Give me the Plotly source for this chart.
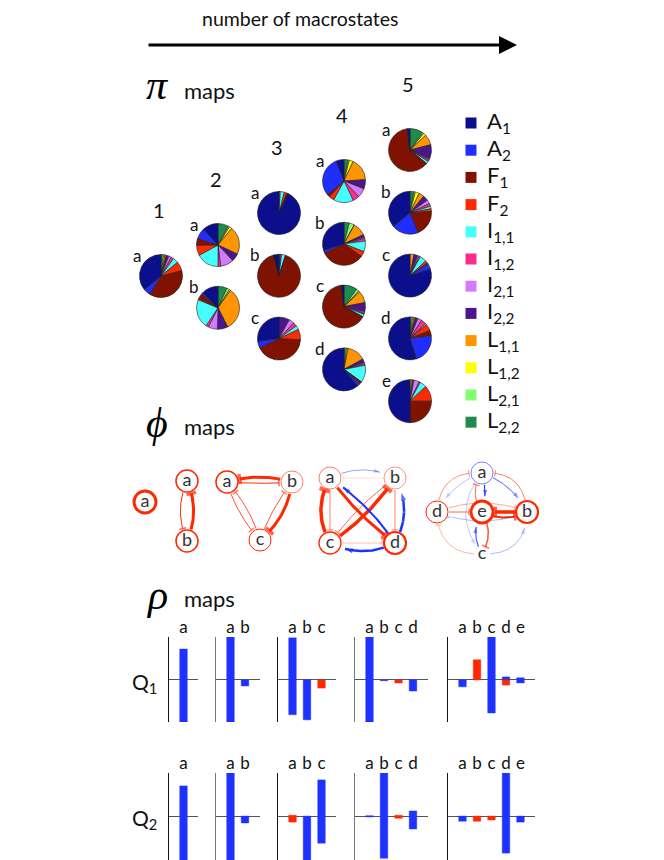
import numpy as np
import plotly.graph_objects as go

# the page body adds an 8px margin, so the figure is drawn 8px smaller and its
# coordinate frame starts at 8px
OFF = 8
REF_W, REF_H = 664, 860
W, H = REF_W - OFF, REF_H - OFF

# ---- pi maps: state order and colours
states = ["A<sub>1</sub>", "A<sub>2</sub>", "F<sub>1</sub>", "F<sub>2</sub>",
          "I<sub>1,1</sub>", "I<sub>1,2</sub>", "I<sub>2,1</sub>", "I<sub>2,2</sub>",
          "L<sub>1,1</sub>", "L<sub>1,2</sub>", "L<sub>2,1</sub>", "L<sub>2,2</sub>"]
state_colors = ["#0b0f8c", "#1f2dff", "#7f1200", "#ff2a00", "#45ffff", "#ff2a8c",
                "#d47aff", "#4b158c", "#ff9500", "#ffff00", "#80ff70", "#1f8a4c"]

#            A1    A2    F1    F2   I11   I12   I21   I22   L11   L12   L21   L22
pi_1a = [0.36, 0.05, 0.38, 0.07, 0.04, 0.02, 0.02, 0.02, 0.01, 0.01, 0.01, 0.01]
pi_2a = [0.12, 0.08, 0.05, 0.08, 0.17, 0.02, 0.10, 0.06, 0.21, 0.02, 0.01, 0.08]
pi_2b = [0.13, 0.01, 0.04, 0.01, 0.22, 0.02, 0.07, 0.08, 0.33, 0.01, 0.02, 0.07]
pi_3a = [0.93, 0.00, 0.01, 0.02, 0.03, 0.01, 0.00, 0.00, 0.00, 0.00, 0.00, 0.00]
pi_3b = [0.04, 0.00, 0.91, 0.00, 0.03, 0.01, 0.00, 0.00, 0.01, 0.00, 0.00, 0.00]
pi_3c = [0.27, 0.05, 0.42, 0.08, 0.03, 0.03, 0.04, 0.08, 0.00, 0.00, 0.00, 0.00]
pi_4a = [0.06, 0.30, 0.02, 0.04, 0.15, 0.05, 0.07, 0.07, 0.17, 0.03, 0.01, 0.03]
pi_4b = [0.30, 0.02, 0.33, 0.04, 0.08, 0.02, 0.01, 0.02, 0.10, 0.00, 0.04, 0.04]
pi_4c = [0.02, 0.00, 0.65, 0.00, 0.02, 0.01, 0.01, 0.07, 0.09, 0.01, 0.02, 0.10]
pi_4d = [0.61, 0.02, 0.02, 0.00, 0.13, 0.01, 0.01, 0.03, 0.14, 0.01, 0.01, 0.01]
pi_5a = [0.02, 0.00, 0.62, 0.00, 0.02, 0.01, 0.01, 0.11, 0.08, 0.02, 0.01, 0.10]
pi_5b = [0.36, 0.20, 0.20, 0.02, 0.02, 0.02, 0.03, 0.04, 0.04, 0.03, 0.01, 0.03]
pi_5c = [0.80, 0.04, 0.01, 0.02, 0.05, 0.01, 0.01, 0.03, 0.03, 0.00, 0.00, 0.00]
pi_5d = [0.55, 0.22, 0.04, 0.05, 0.01, 0.04, 0.03, 0.02, 0.01, 0.01, 0.01, 0.01]
pi_5e = [0.50, 0.00, 0.25, 0.12, 0.05, 0.01, 0.04, 0.01, 0.01, 0.01, 0.00, 0.00]
pi_columns = [[pi_1a], [pi_2a, pi_2b], [pi_3a, pi_3b, pi_3c],
              [pi_4a, pi_4b, pi_4c, pi_4d], [pi_5a, pi_5b, pi_5c, pi_5d, pi_5e]]
letters = ["a", "b", "c", "d", "e"]

# ---- phi maps: node positions (pixel space) and edges (src, dst, bend, width, colour, alpha, head)
phi1_nodes = {"a": (145, 502)}
phi1_edges = []
phi2_nodes = {"a": (187, 481), "b": (187, 541)}
phi2_edges = [("a", "b", 0.22, 1.0, "r", 1.0, "T"),
              ("b", "a", 0.22, 3.0, "r", 1.0, "T")]
phi3_nodes = {"a": (227, 482), "b": (292, 482), "c": (260, 540)}
phi3_edges = [("b", "a", 0.15, 3.0, "r", 1.0, "T"),
              ("a", "b", 0.04, 1.0, "r", 1.0, "T"),
              ("a", "c", 0.12, 1.0, "r", 0.8, "T"),
              ("c", "a", 0.12, 1.0, "r", 0.8, "T"),
              ("c", "b", -0.08, 1.0, "r", 0.8, "T"),
              ("b", "c", -0.2, 3.0, "r", 1.0, "T")]
phi4_nodes = {"a": (330, 478), "b": (395, 478), "c": (330, 543), "d": (395, 543)}
phi4_edges = [("a", "b", -0.25, 1.0, "b", 0.45, "arrow"),
              ("b", "a", 0.0, 1.0, "r", 0.15, "T"),
              ("a", "c", 0.0, 1.0, "r", 0.6, "T"),
              ("c", "a", -0.28, 3.5, "r", 1.0, "T"),
              ("b", "d", 0.0, 1.0, "r", 0.6, "T"),
              ("d", "b", 0.28, 2.5, "b", 1.0, "arrow"),
              ("c", "d", 0.0, 1.0, "r", 0.3, "T"),
              ("d", "c", -0.25, 2.5, "b", 1.0, "arrow"),
              ("a", "d", 0.08, 3.0, "r", 1.0, "T"),
              ("c", "b", 0.1, 3.5, "r", 1.0, "T"),
              ("d", "a", 0.1, 2.0, "b", 1.0, "arrow"),
              ("b", "c", 0.08, 1.0, "r", 0.7, "T")]
phi5_nodes = {"a": (482, 473), "d": (437, 512), "e": (482, 512), "b": (527, 512), "c": (482, 554)}
phi5_edges = [("a", "e", -0.15, 1.2, "b", 0.9, "arrow"),
              ("e", "a", -0.35, 1.0, "r", 0.7, "T"),
              ("a", "b", -0.2, 1.0, "b", 0.8, "arrow"),
              ("b", "a", 0.5, 1.0, "r", 0.6, "T"),
              ("d", "a", -0.5, 1.0, "r", 0.5, "T"),
              ("a", "d", 0.2, 0.8, "b", 0.4, "arrow"),
              ("b", "e", 0.0, 3.5, "r", 1.0, "T"),
              ("e", "b", 0.25, 2.0, "r", 1.0, "T"),
              ("e", "c", -0.3, 1.5, "r", 0.8, "T"),
              ("c", "e", -0.3, 1.2, "b", 0.8, "arrow"),
              ("d", "b", -0.2, 1.0, "r", 0.4, "T"),
              ("b", "d", -0.2, 1.0, "b", 0.35, "arrow"),
              ("d", "e", 0.0, 1.0, "r", 0.7, "T"),
              ("c", "d", -0.5, 1.0, "r", 0.35, "T"),
              ("c", "b", 0.5, 1.0, "b", 0.35, "arrow"),
              ("a", "c", 0.4, 0.8, "b", 0.35, "arrow")]
# node outline: (colour, alpha, width); None = no circle
phi_node_style = [
    {"a": ("r", 1.0, 3.0)},
    {"a": ("r", 1.0, 1.5), "b": ("r", 1.0, 1.5)},
    {"a": ("r", 1.0, 1.5), "b": ("r", 0.6, 1.0), "c": ("r", 1.0, 1.0)},
    {"a": ("r", 0.6, 1.0), "b": ("r", 0.5, 1.0), "c": ("r", 1.0, 1.3), "d": ("r", 1.0, 2.2)},
    {"a": ("b", 0.6, 1.0), "d": ("r", 1.0, 1.0), "e": ("r", 1.0, 2.8), "b": ("r", 1.0, 2.2), "c": None},
]
phi_maps = [(phi1_nodes, phi1_edges), (phi2_nodes, phi2_edges), (phi3_nodes, phi3_edges),
            (phi4_nodes, phi4_edges), (phi5_nodes, phi5_edges)]

# ---- rho maps: bars (label index, low, high, colour)
q1_bars = [
    [(0, -0.98, 0.72, "b")],
    [(0, -0.98, 1.0, "b"), (1, -0.14, 0.0, "b")],
    [(0, -0.81, 0.98, "b"), (1, -0.93, 0.0, "b"), (2, -0.19, 0.0, "r")],
    [(0, -0.98, 1.0, "b"), (1, -0.02, 0.0, "b"), (2, -0.07, 0.0, "r"), (3, -0.26, 0.0, "b")],
    [(0, -0.16, 0.0, "b"), (1, 0.0, 0.47, "r"), (2, -0.77, 1.0, "b"),
     (3, 0.0, 0.07, "b"), (3, -0.12, 0.0, "r"), (4, -0.07, 0.05, "b")],
]
q2_bars = [
    [(0, -1.1, 0.70, "b")],
    [(0, -1.1, 1.0, "b"), (1, -0.16, 0.0, "b")],
    [(0, -0.14, 0.02, "r"), (1, -1.1, 0.0, "b"), (2, -0.63, 0.84, "b")],
    [(0, -0.02, 0.01, "b"), (1, -0.98, 1.0, "b"), (2, -0.05, 0.02, "r"), (3, -0.3, 0.12, "b")],
    [(0, -0.12, 0.0, "b"), (1, -0.12, 0.0, "r"), (2, -0.09, 0.0, "r"), (3, -0.86, 1.0, "b"),
     (4, -0.14, 0.0, "b")],
]
rho_rows = [("Q<sub>1</sub>", q1_bars, (637, 722), (-0.98, 1.0)),
            ("Q<sub>2</sub>", q2_bars, (773, 860), (-1.02, 1.0))]
panel_left = [169, 216, 278, 355, 448]
panel_line = ["#111", "#777", "#111", "#777", "#111"]

RED = (255, 40, 0)
BLUE = (30, 50, 255)
FONT = "Lato"


def rgba(c, a):
    r, g, b = RED if c == "r" else BLUE
    return f"rgba({r},{g},{b},{a})"


def px_x(x):
    return (x - OFF) / W


def px_y(y):
    return 1 - (y - OFF) / H


fig = go.Figure()

# ---------- overlay axis in reference pixel coordinates
fig.update_layout(
    xaxis=dict(domain=[0, 1], range=[OFF, REF_W], visible=False, fixedrange=True),
    yaxis=dict(domain=[0, 1], range=[REF_H, OFF], visible=False, fixedrange=True),
)

NODE_R = 11
for m, (nodes, edges) in enumerate(phi_maps):
    style = phi_node_style[m]
    for src, dst, bend, lw, col, alpha, head in edges:
        x0, y0 = nodes[src]
        x1, y1 = nodes[dst]
        dx, dy = x1 - x0, y1 - y0
        L = np.hypot(dx, dy)
        nx, ny = -dy / L, dx / L
        cx = (x0 + x1) / 2 + nx * bend * L
        cy = (y0 + y1) / 2 + ny * bend * L
        t = np.linspace(0, 1, 400)
        bx = (1 - t) ** 2 * x0 + 2 * (1 - t) * t * cx + t ** 2 * x1
        by = (1 - t) ** 2 * y0 + 2 * (1 - t) * t * cy + t ** 2 * y1
        r0 = NODE_R + 1 if style.get(src) else 8
        r1 = (NODE_R + 2 if style.get(dst) else 8) + (3 if head == "arrow" else 0)
        keep = (np.hypot(bx - x0, by - y0) >= r0) & (np.hypot(bx - x1, by - y1) >= r1)
        bx, by = bx[keep][::8].tolist() + [bx[keep][-1]], by[keep][::8].tolist() + [by[keep][-1]]
        n = len(bx)
        if head == "arrow":
            marker = dict(symbol="arrow", size=[0] * (n - 1) + [5 + lw * 1.3],
                          color=rgba(col, alpha), angleref="previous", line=dict(width=0))
        else:
            marker = dict(symbol="line-ew", size=[0] * (n - 1) + [4 + lw],
                          color=rgba(col, alpha), angleref="previous",
                          line=dict(width=lw + 0.5, color=rgba(col, alpha)))
        fig.add_trace(go.Scatter(x=bx, y=by, mode="lines+markers", line=dict(color=rgba(col, alpha), width=lw),
                                 marker=marker, hoverinfo="skip", xaxis="x", yaxis="y"))
    for name, (x, y) in nodes.items():
        st = style[name]
        if st is None:
            fig.add_trace(go.Scatter(x=[x], y=[y], mode="text", text=[name],
                                     textfont=dict(family=FONT, size=18, color="#333"), xaxis="x", yaxis="y"))
            continue
        col, alpha, lw = st
        fig.add_trace(go.Scatter(x=[x], y=[y], mode="markers+text", text=[name], textposition="middle center",
                                 textfont=dict(family=FONT, size=18, color="#333"),
                                 marker=dict(size=2 * NODE_R, color="white",
                                             line=dict(color=rgba(col, alpha), width=lw)),
                                 xaxis="x", yaxis="y"))

# ---------- pies (MATLAB order: counterclockwise from 12 o'clock, i.e. reversed clockwise)
col_x = [161, 218, 279, 344, 410]
col_top = [276, 245, 213, 181, 150]
ROW_STEP = 62.8
PIE_R = 21.5
annotations = []
for c, pies in enumerate(pi_columns):
    annotations.append(dict(x=col_x[c] - 2, y=col_top[c] - 66, text=str(c + 1), showarrow=False,
                            xref="x", yref="y", font=dict(family=FONT, size=20, color="#111")))
    for r, vals in enumerate(pies):
        cx, cy = col_x[c], col_top[c] + r * ROW_STEP
        fig.add_trace(go.Pie(values=vals[::-1], labels=states[::-1], sort=False, direction="clockwise",
                             rotation=0, textinfo="none", hoverinfo="label+percent",
                             marker=dict(colors=state_colors[::-1], line=dict(color="#222", width=0.6)),
                             domain=dict(x=[px_x(cx - PIE_R), px_x(cx + PIE_R)],
                                         y=[px_y(cy + PIE_R), px_y(cy - PIE_R)])))
        annotations.append(dict(x=cx - 24, y=cy - 21, text=letters[r], showarrow=False, xref="x", yref="y",
                                font=dict(family=FONT, size=17, color="#111")))

# legend (manual)
leg_y = [123 + 27.2 * i for i in range(len(states))]
fig.add_trace(go.Scatter(x=[471] * len(states), y=leg_y, mode="markers",
                         marker=dict(symbol="square", size=11, color=state_colors, line=dict(width=0)),
                         xaxis="x", yaxis="y", hoverinfo="skip"))
for i, s in enumerate(states):
    annotations.append(dict(x=485, y=leg_y[i] - 1, text=s, showarrow=False, xanchor="left", yanchor="middle",
                            xref="x", yref="y", font=dict(family=FONT, size=22, color="#111")))

# ---------- rho bar panels
ax = 2
for label, rows, (top, bottom), yr in rho_rows:
    zero_y = top + (bottom - top) * yr[1] / (yr[1] - yr[0])
    annotations.append(dict(x=130, y=zero_y + 3, text=label, showarrow=False, xanchor="left", yanchor="middle",
                            xref="x", yref="y", font=dict(family=FONT, size=21, color="#111")))
    for k, bars in enumerate(rows):
        n = k + 1
        left = panel_left[k]
        width = 14.5 * (n + 1)
        xa, ya = f"xaxis{ax}", f"yaxis{ax}"
        fig.update_layout(**{
            xa: dict(domain=[px_x(left), px_x(left + width)], range=[-1, n], anchor=f"y{ax}", side="top",
                     tickvals=list(range(n)), ticktext=letters[:n], ticks="", showline=False,
                     showgrid=False, zeroline=False, fixedrange=True,
                     tickfont=dict(family=FONT, size=17, color="#111")),
            ya: dict(domain=[px_y(bottom), px_y(top)], range=list(yr), anchor=f"x{ax}", showline=True,
                     linecolor=panel_line[k], linewidth=1.2, showticklabels=False, ticks="", showgrid=False,
                     zeroline=True, zerolinecolor="#555", zerolinewidth=1, layer="above traces",
                     fixedrange=True),
        })
        for col in ["b", "r"]:
            sel = [b for b in bars if b[3] == col]
            if not sel:
                continue
            fig.add_trace(go.Bar(x=[b[0] for b in sel], y=[b[2] - b[1] for b in sel], base=[b[1] for b in sel],
                                 width=0.52, marker=dict(color=rgba(col, 1),
                                                         line=dict(color=rgba(col, 0.45), width=1)),
                                 xaxis=f"x{ax}", yaxis=f"y{ax}", hoverinfo="skip"))
        ax += 1

# ---------- headings
annotations += [
    dict(x=300, y=18, text="number of macrostates", showarrow=False, xref="x", yref="y",
         font=dict(family=FONT, size=19.5, color="#111")),
    dict(x=517, y=45, ax=147, ay=45, axref="x", ayref="y", xref="x", yref="y", text="",
         showarrow=True, arrowhead=2, arrowsize=1.2, arrowwidth=3, arrowcolor="#000"),
]
for gy, my, glyph in [(85, 90, "π"), (423, 426, "ϕ"), (595, 598, "ρ")]:
    annotations.append(dict(x=144, y=gy, text=f"<i>{glyph}</i>", showarrow=False, xanchor="left",
                            yanchor="middle", xref="x", yref="y",
                            font=dict(family="Liberation Serif", size=42, color="#000")))
    annotations.append(dict(x=182, y=my, text="maps", showarrow=False, xanchor="left",
                            yanchor="middle", xref="x", yref="y",
                            font=dict(family=FONT, size=22, color="#111")))

fig.update_layout(width=W, height=H, margin=dict(l=0, r=0, t=0, b=0), showlegend=False,
                  paper_bgcolor="white", plot_bgcolor="rgba(0,0,0,0)", barmode="overlay",
                  annotations=annotations)

fig.write_html("out.html")
